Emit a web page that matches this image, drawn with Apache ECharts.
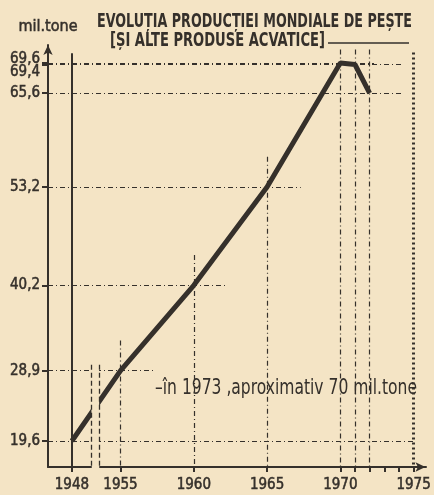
<!DOCTYPE html>
<html>
<head>
<meta charset="utf-8">
<script src="https://cdn.jsdelivr.net/npm/echarts@6/dist/echarts.min.js"></script>
<style>
  html, body { margin: 0; padding: 0; background: #f4e4c5; }
  #chart { width: 434px; height: 495px; }
</style>
</head>
<body>
<div id="chart"></div>
<script>
// productia mondiala de peste (mil. tone)
var years = [1948, 1955, 1960, 1965, 1970, 1971, 1972];
var production = [19.6, 28.9, 40.2, 53.2, 69.6, 69.4, 65.6];
// 65,6 pus la urma: altfel echarts ascunde una din etichetele 69,4 / 69,6
var yTickValues = [19.6, 28.9, 40.2, 53.2, 69.4, 69.6, 65.6];
var xLabelYears = [1948, 1955, 1960, 1965, 1970, 1975];
var xTickYears = [1948, 1955, 1960, 1965, 1970, 1971, 1972, 1973, 1974, 1975];
var title1 = 'EVOLUȚIA PRODUCȚIEI MONDIALE DE PEȘTE';
var title2 = '[ȘI ALTE PRODUSE ACVATICE]';
var note = '–în 1973 ,aproximativ 70 mil.tone';

var INK = '#35302b';
var BG = '#f4e4c5';
var FONT = '"DejaVu Sans Condensed", "Liberation Sans Narrow", sans-serif';
var X_MIN = 1946.37, X_MAX = 1975.81;
var Y_MIN = 16.16, Y_MAX = 71.98;
var BREAK_START = 1949.29, BREAK_END = 1953.58;
var dashDot = [5, 3, 1, 3];

// latimea textului, ca sa il ingustam cat in original
function textWidth(str, font) {
  var ctx = document.createElement('canvas').getContext('2d');
  ctx.font = font;
  return ctx.measureText(str).width;
}
function narrowText(str, x, y, size, weight, width) {
  var font = weight + ' ' + size + 'px ' + FONT;
  return {
    type: 'text', x: x, y: y,
    scaleX: width / textWidth(str, font),
    style: {text: str, font: font, fill: INK, verticalAlign: 'top'}
  };
}

var chart = echarts.init(document.getElementById('chart'));

// linii ajutatoare (orizontale de la axa y, verticale spre axa x)
var guides = [];
for (var i = 0; i < years.length; i++) {
  var x = years[i], v = production[i];
  var xEnd = (i == 0) ? 1975 : x + 2.3;
  if (v == 69.4) xEnd = 1974.2;
  guides.push([{coord: [X_MIN, v]}, {coord: [xEnd, v]}]);
  var yStart = (x >= 1970) ? 71.4 : v + 4;
  var style = {type: dashDot, width: 1.2, color: INK};
  if (i == 0) {
    yStart = 70.9;
    style = {type: 'solid', width: 2, color: INK};
  }
  guides.push([{coord: [x, yStart], lineStyle: style}, {coord: [x, Y_MIN]}]);
}
guides.push([{coord: [1975, 71], lineStyle: {type: [2, 3], width: 3, color: INK}}, {coord: [1975, Y_MIN]}]);

var labelFont = {fontFamily: FONT, fontSize: 15, color: INK, textBorderColor: INK, textBorderWidth: 0.5};

var option = {
  backgroundColor: BG,
  animation: false,
  graphic: [
    narrowText(title1, 97, 13, 19, 'bold', 315),
    narrowText(title2, 110, 32, 19, 'bold', 215),
    {
      type: 'line',
      shape: {x1: 328, y1: 43, x2: 409, y2: 43},
      style: {stroke: INK, lineWidth: 1.5}
    },
    narrowText(note, 155, 378, 21, 'normal', 262)
  ],
  grid: {left: 48, right: 6, top: 45, bottom: 28, containLabel: false},
  xAxis: {
    type: 'value',
    min: X_MIN,
    max: X_MAX,
    breaks: [{start: BREAK_START, end: BREAK_END, gap: 0.61}],
    breakArea: {show: false},
    splitLine: {show: false},
    axisLine: {
      show: true, onZero: false,
      symbol: ['none', 'arrow'], symbolSize: [7, 10],
      lineStyle: {color: INK, width: 2}
    },
    axisTick: {show: true, customValues: xTickYears, length: 5, lineStyle: {color: INK, width: 2}},
    axisLabel: Object.assign({
      customValues: xLabelYears, margin: 11,
      showMinLabel: true, showMaxLabel: true, hideOverlap: false,
      formatter: function (v) { return String(v); }
    }, labelFont)
  },
  yAxis: {
    type: 'value',
    min: Y_MIN,
    max: Y_MAX,
    name: 'mil.tone',
    nameLocation: 'end',
    nameGap: 10,
    nameTextStyle: Object.assign({align: 'center'}, labelFont, {fontSize: 16}),
    splitLine: {show: false},
    axisLine: {
      show: true, onZero: false,
      symbol: ['none', 'arrow'], symbolSize: [7, 10],
      lineStyle: {color: INK, width: 2}
    },
    axisTick: {show: true, customValues: yTickValues, length: 6, lineStyle: {color: INK, width: 2}},
    axisLabel: Object.assign({
      customValues: yTickValues, margin: 8,
      showMinLabel: true, showMaxLabel: true, hideOverlap: false,
      formatter: function (v) {
        var s = v.toFixed(1).replace('.', ',');
        if (v == 69.6) return '{up|' + s + '}';
        if (v == 69.4) return '{dn|' + s + '}';
        return s;
      },
      rich: {
        up: Object.assign({padding: [0, 0, 7, 0]}, labelFont),
        dn: Object.assign({padding: [16, 0, 0, 0]}, labelFont)
      }
    }, labelFont)
  },
  series: [{
    name: 'productia',
    type: 'line',
    data: years.map(function (y, i) { return [y, production[i]]; }),
    symbol: 'none',
    smooth: false,
    lineStyle: {color: INK, width: 5},
    z: 3,
    markLine: {
      silent: true,
      symbol: ['none', 'none'],
      label: {show: false},
      lineStyle: {type: dashDot, width: 1.2, color: INK},
      data: guides
    }
  }, {
    // intreruperea axei: acopera linia intre 1948 si 1955
    name: 'intrerupere',
    type: 'line',
    data: [],
    z: 10,
    markArea: {
      silent: true,
      z: 20,
      itemStyle: {color: BG, opacity: 1},
      data: [[{coord: [BREAK_START + 0.3, 17.5]}, {coord: [BREAK_END - 0.3, 31]}]]
    }
  }, {
    name: 'margini',
    type: 'line',
    data: [],
    z: 12,
    markLine: {
      silent: true,
      z: 25,
      symbol: ['none', 'none'],
      label: {show: false},
      lineStyle: {type: [5, 3], width: 1.3, color: INK},
      data: [
        [{coord: [BREAK_START, 29.7]}, {coord: [BREAK_START, Y_MIN]}],
        [{coord: [BREAK_END, 29.7]}, {coord: [BREAK_END, Y_MIN]}]
      ]
    }
  }]
};
chart.setOption(option);
</script>
</body>
</html>
